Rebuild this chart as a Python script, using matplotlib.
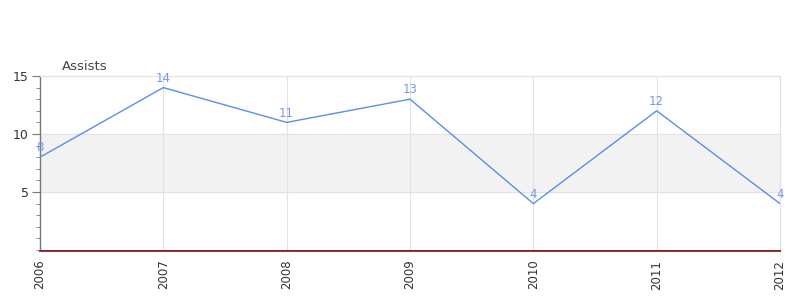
import matplotlib
matplotlib.use("Agg")
import matplotlib.pyplot as plt
from matplotlib.ticker import MultipleLocator

years = ["2006", "2007", "2008", "2009", "2010", "2011", "2012"]
assists = [8, 14, 11, 13, 4, 12, 4]
title = "Assists"

fig = plt.figure(figsize=(8, 3), dpi=100)
ax = fig.add_axes([0.05, 0.1667, 0.925, 0.58])

for s in ["top", "right"]:
    ax.spines[s].set_color("#e2e2e2")
    ax.spines[s].set_linewidth(0.8)
ax.spines["left"].set_color("#777777")
ax.spines["left"].set_linewidth(1.0)
ax.spines["bottom"].set_color("#555555")
ax.spines["bottom"].set_linewidth(1.5)
ax.spines["bottom"].set_position(("outward", 1))

x = list(range(len(years)))
ax.axhspan(5, 10, color="#f2f2f2", zorder=0)
ax.plot(x, assists, color="#5b8ee8", lw=1.0, zorder=3)
for xi, v in zip(x, assists):
    ax.annotate(str(v), (xi, v), xytext=(0, 2), textcoords="offset points",
                ha="center", va="bottom", color="#6f9be8", fontsize=8.5, zorder=4)

ax.set_xlim(0, len(years) - 1)
ax.set_ylim(0, 15)
ax.set_xticks(x)
ax.set_xticklabels(years, rotation=90, fontsize=8.5, color="#333333")
ax.set_yticks([5, 10, 15])
ax.set_yticklabels(["5", "10", "15"], fontsize=9, color="#333333")
ax.yaxis.set_minor_locator(MultipleLocator(1))
ax.tick_params(axis="y", which="major", length=6, color="#777777", direction="out", pad=2)
ax.tick_params(axis="y", which="minor", length=3, color="#777777", direction="out")
ax.tick_params(axis="x", length=0, pad=6)

ax.grid(True, axis="both", which="major", color="#e2e2e2", lw=0.8, zorder=1)
ax.set_axisbelow(True)

ax.axhline(0, color="#cc0000", lw=0.6, zorder=5, clip_on=False)

fig.text(62 / 800, 1 - 66 / 300, title, fontsize=9.5, color="#444444", ha="left", va="center")

fig.savefig("out.png", dpi=100)
